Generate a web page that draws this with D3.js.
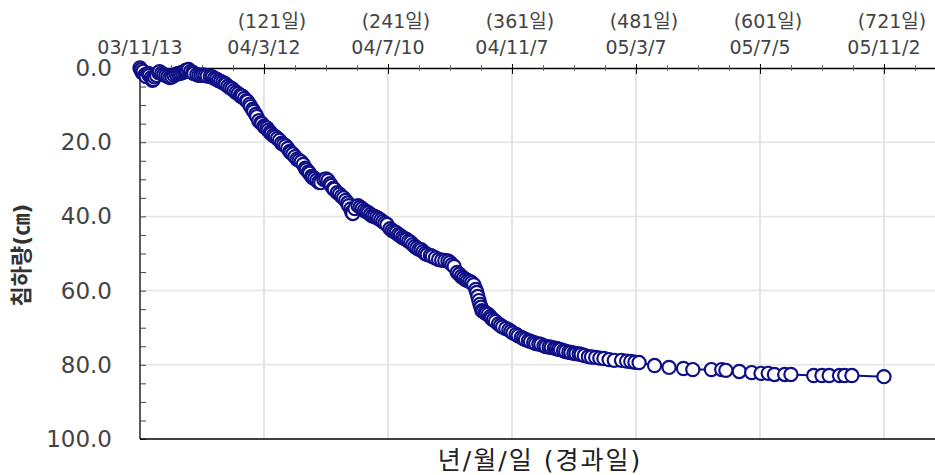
<!DOCTYPE html>
<html>
<head>
<meta charset="utf-8">
<script src="https://cdn.jsdelivr.net/npm/d3@7"></script>
<style>
  body { margin: 0; background: #fff; }
  svg { display: block; }
</style>
</head>
<body>
<svg id="chart"></svg>
<script>
// elapsed days and settlement (cm)
const days = [1, 4, 6, 9, 12, 14, 17, 19, 22, 26, 30, 34, 38, 42, 45, 48, 50, 53, 56, 60,
  64, 69, 73, 77, 81, 84, 88, 92, 96, 99, 102, 105, 108, 111, 114, 116, 119, 122, 125, 128,
  132, 136, 140, 144, 147, 151, 155, 159, 162, 165, 168, 172, 176, 179, 183, 186, 189, 192, 196, 200,
  203, 206, 209, 212, 216, 220, 224, 228, 232, 236, 240, 243, 247, 251, 255, 259, 263, 267, 271, 275,
  279, 284, 290, 296, 301, 305, 308, 312, 316, 320, 324, 326, 328, 330, 332, 335, 338, 341, 345, 350,
  355, 360, 365, 370, 374, 379, 384, 389, 394, 399, 404, 408, 413, 418, 423, 428, 435, 442, 450, 460,
  467, 476, 484, 499, 513, 527, 536, 554, 564, 568, 581, 593, 602, 609, 615, 625, 631, 653, 661, 668,
  678, 683, 690, 721,
  // second pass of readings in the dense first year
  2, 3, 7, 10, 13, 15, 20, 24, 28, 32, 36, 40, 44, 46, 52, 58, 62, 66, 71, 75,
  79, 83, 86, 90, 94, 98, 100, 104, 107, 110, 113, 118, 121, 124, 127, 130, 134, 138, 142, 146,
  149, 153, 157, 161, 164, 167, 170, 174, 181, 185, 188, 194, 198, 202, 205, 207, 214, 218, 222, 226,
  230, 234, 238, 245, 249, 253, 257, 261, 265, 269, 273, 277, 282, 287, 293, 299, 303, 310, 314, 318,
  322, 327, 329, 331, 333, 336, 340, 343, 348, 352, 358, 362, 367, 372, 377, 382, 387, 392, 397, 402,
  406, 411, 416, 421, 426, 431, 438, 446, 455, 472, 480];
const settle = [0.0, 0.9, 1.8, 1.5, 2.6, 3.1, 2.0, 1.2, 1.5, 2.0, 2.6, 2.0, 1.5, 1.2, 0.7, 0.4, 0.9, 1.5, 1.8, 2.0,
  2.0, 2.3, 2.8, 3.4, 3.9, 4.4, 5.3, 6.1, 6.9, 7.7, 8.2, 9.0, 10.4, 11.7, 13.1, 14.2, 15.0, 16.0, 16.8, 17.7,
  18.5, 19.5, 20.6, 21.7, 22.8, 23.9, 24.9, 26.0, 27.4, 28.4, 29.5, 30.3, 30.9, 30.1, 30.3, 31.7, 32.7, 33.6, 34.6, 35.7,
  37.1, 38.9, 37.9, 37.1, 37.9, 38.7, 39.5, 40.0, 40.6, 41.4, 42.2, 43.3, 44.1, 44.9, 45.7, 46.2, 47.0, 48.1, 48.9, 49.5,
  50.3, 50.8, 51.6, 51.9, 52.4, 53.5, 55.1, 56.2, 57.0, 57.5, 58.4, 59.7, 61.6, 63.7, 65.4, 65.9, 66.4, 67.5, 68.3, 69.4,
  70.2, 71.0, 71.8, 72.6, 73.2, 73.7, 74.3, 74.5, 75.1, 75.3, 75.6, 75.9, 76.4, 76.7, 77.0, 77.2, 77.8, 78.0, 78.3, 78.8,
  78.8, 79.1, 79.4, 80.2, 80.7, 81.0, 81.3, 81.3, 81.3, 81.5, 81.8, 82.1, 82.3, 82.3, 82.6, 82.6, 82.6, 82.9, 82.9, 82.9,
  82.9, 82.9, 82.9, 83.2,
  0.5, 1.2, 2.3, 2.0, 3.3, 2.4, 1.0, 1.8, 2.3, 2.4, 1.7, 1.4, 1.0, 0.6, 1.2, 2.0, 1.9, 2.2, 2.4, 3.0,
  3.6, 4.2, 4.9, 5.6, 6.6, 7.4, 7.6, 8.8, 9.8, 11.2, 12.5, 14.8, 15.7, 16.2, 17.3, 18.2, 19.0, 20.3, 21.0, 22.5,
  23.2, 24.6, 25.3, 27.0, 28.0, 29.2, 29.8, 30.8, 29.9, 31.2, 32.5, 34.0, 35.0, 36.4, 38.0, 39.2, 37.5, 38.4, 39.0, 39.9,
  40.3, 41.0, 41.8, 43.8, 44.4, 45.2, 46.0, 46.7, 47.6, 48.5, 49.0, 50.0, 50.5, 51.2, 51.8, 52.0, 53.0, 55.6, 56.6, 57.3,
  57.9, 60.5, 62.7, 64.5, 65.6, 66.2, 67.0, 67.9, 69.0, 69.8, 70.6, 71.4, 72.2, 72.9, 73.5, 74.0, 74.4, 74.9, 75.2, 75.5,
  75.8, 76.2, 76.6, 76.9, 77.1, 77.5, 77.9, 78.2, 78.6, 79.0, 79.3];

const tickDays = [1, 121, 241, 361, 481, 601, 721];
const tickDates = ['03/11/13', '04/3/12', '04/7/10', '04/11/7', '05/3/7', '05/7/5', '05/11/2'];
const yTicks = [0, 20, 40, 60, 80, 100];

const width = 935;
const height = 475;
const plotL = 140, plotR = 935, plotT = 68, plotB = 439;
const navy = '#0f0f86';
const font = '"DejaVu Sans", "Noto Sans CJK KR", sans-serif';

const svg = d3.select('#chart').attr('width', width).attr('height', height);

const x = d3.scaleLinear().domain([1, 770.4]).range([plotL, plotR]);
const y = d3.scaleLinear().domain([0, 100]).range([plotT, plotB]);

// grid
svg.append('g').selectAll('line').data(tickDays.slice(1)).enter()
  .append('line')
  .attr('x1', d => x(d)).attr('x2', d => x(d))
  .attr('y1', plotT).attr('y2', plotB)
  .attr('stroke', '#dcdcdc').attr('stroke-width', 1.5);
svg.append('g').selectAll('line').data([20, 40, 60, 80]).enter()
  .append('line')
  .attr('x1', plotL).attr('x2', plotR)
  .attr('y1', d => y(d)).attr('y2', d => y(d))
  .attr('stroke', '#e4e4e4').attr('stroke-width', 1.5);

// top axis
const topAxis = svg.append('g').attr('transform', `translate(0,${plotT})`)
  .call(d3.axisTop(x).tickValues(d3.range(1, 771, 30)).tickSize(0).tickFormat(''));
topAxis.select('.domain').attr('stroke', '#000').attr('stroke-width', 1.3);
topAxis.selectAll('.tick line').remove();
topAxis.selectAll('.tick').append('line')
  .attr('y1', d => tickDays.includes(d) ? -4 : -3)
  .attr('y2', d => tickDays.includes(d) ? 6 : 3)
  .attr('stroke', d => tickDays.includes(d) ? '#000' : '#666')
  .attr('stroke-width', 1);

svg.append('g').selectAll('text').data(tickDates).enter()
  .append('text')
  .attr('x', (d, i) => x(tickDays[i]))
  .attr('y', 54)
  .attr('text-anchor', 'middle')
  .attr('font-family', font).attr('font-size', 19).attr('fill', '#444')
  .text(d => d);
svg.append('g').selectAll('text').data(tickDays.slice(1)).enter()
  .append('text')
  .attr('x', d => x(d) + 8)
  .attr('y', 28)
  .attr('text-anchor', 'middle')
  .attr('font-family', font).attr('font-size', 19).attr('fill', '#444')
  .text(d => `(${d}일)`);

// left axis
const leftAxis = svg.append('g').attr('transform', `translate(${plotL},0)`)
  .call(d3.axisRight(y).tickValues(d3.range(0, 101, 5)).tickSize(6).tickFormat(''));
leftAxis.select('.domain').attr('stroke', '#000').attr('stroke-width', 1.3).attr('d', `M0,${plotT}V${plotB}`);
leftAxis.selectAll('.tick line').attr('stroke', '#444');

svg.append('g').selectAll('text').data(yTicks).enter()
  .append('text')
  .attr('x', 112)
  .attr('y', d => y(d) + 8)
  .attr('text-anchor', 'end')
  .attr('font-family', font).attr('font-size', 23).attr('fill', '#444')
  .text(d => d.toFixed(1));

// bottom frame line
svg.append('line')
  .attr('x1', plotL).attr('x2', plotR)
  .attr('y1', plotB).attr('y2', plotB)
  .attr('stroke', '#000').attr('stroke-width', 1.3);

// series, in day order
const pts = days.map((d, i) => ({ day: d, v: settle[i] })).sort((a, b) => a.day - b.day);
svg.append('path')
  .datum(pts)
  .attr('fill', 'none')
  .attr('stroke', navy)
  .attr('stroke-width', 2)
  .attr('d', d3.line().x(d => x(d.day)).y(d => y(d.v)));
svg.append('g').selectAll('circle').data(pts).enter()
  .append('circle')
  .attr('cx', d => x(d.day))
  .attr('cy', d => y(d.v))
  .attr('r', 6.6)
  .attr('fill', '#fff')
  .attr('stroke', navy)
  .attr('stroke-width', 2.2);

// axis titles
svg.append('text')
  .attr('x', 540).attr('y', 469)
  .attr('text-anchor', 'middle')
  .attr('font-family', font).attr('font-size', 25).attr('letter-spacing', 2)
  .attr('fill', '#222')
  .text('년/월/일 (경과일)');
svg.append('text')
  .attr('transform', 'translate(29,255) rotate(-90)')
  .attr('text-anchor', 'middle')
  .attr('font-family', font).attr('font-size', 22).attr('font-weight', 'bold').attr('fill', '#333')
  .text('침하량(㎝)');
</script>
</body>
</html>
